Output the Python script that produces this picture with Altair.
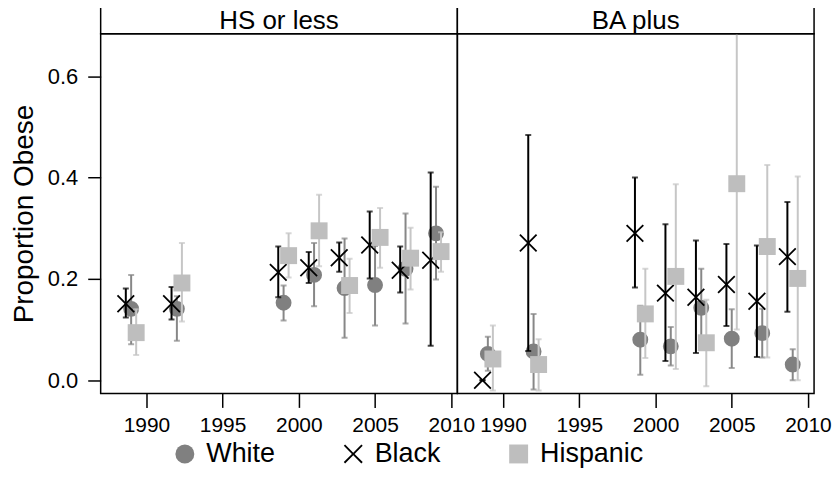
import altair as alt
import pandas as pd

years = [1989, 1992, 1999, 2001, 2003, 2005, 2007, 2009]
panels = ["HS or less", "BA plus"]
groups = ["White", "Black", "Hispanic"]

# HS or less
hs_white_est = [0.141, 0.141, 0.153, 0.208, 0.182, 0.188, 0.220, 0.290]
hs_white_lo = [0.071, 0.078, 0.118, 0.146, 0.084, 0.108, 0.112, 0.199]
hs_white_hi = [0.208, 0.166, 0.187, 0.271, 0.280, 0.265, 0.329, 0.382]
hs_black_est = [0.151, 0.151, 0.213, 0.222, 0.242, 0.267, 0.217, 0.237]
hs_black_lo = [0.124, 0.120, 0.164, 0.192, 0.214, 0.201, 0.173, 0.068]
hs_black_hi = [0.181, 0.184, 0.264, 0.253, 0.272, 0.333, 0.264, 0.410]
hs_hisp_est = [0.094, 0.192, 0.246, 0.295, 0.187, 0.282, 0.241, 0.254]
hs_hisp_lo = [0.050, 0.116, 0.203, 0.225, 0.133, 0.222, 0.179, 0.214]
hs_hisp_hi = [0.140, 0.271, 0.290, 0.366, 0.240, 0.340, 0.301, 0.292]

# BA plus
ba_white_est = [0.052, 0.057, 0.080, 0.067, 0.143, 0.082, 0.093, 0.031]
ba_white_lo = [0.019, -0.018, 0.011, 0.029, 0.068, 0.024, 0.045, 0.000]
ba_white_hi = [0.086, 0.131, 0.147, 0.105, 0.220, 0.140, 0.141, 0.061]
ba_black_est = [0.000, 0.271, 0.290, 0.172, 0.164, 0.189, 0.156, 0.244]
ba_black_lo = [0.000, 0.058, 0.183, 0.038, 0.054, 0.107, 0.046, 0.135]
ba_black_hi = [0.000, 0.484, 0.400, 0.308, 0.276, 0.269, 0.266, 0.352]
ba_hisp_est = [0.042, 0.031, 0.131, 0.205, 0.074, 0.388, 0.264, 0.201]
ba_hisp_lo = [-0.020, -0.020, 0.044, 0.022, -0.012, 0.100, 0.045, 0.000]
ba_hisp_hi = [0.108, 0.081, 0.220, 0.387, 0.159, 0.750, 0.425, 0.402]

series = {
    ("HS or less", "White"): (hs_white_est, hs_white_lo, hs_white_hi),
    ("HS or less", "Black"): (hs_black_est, hs_black_lo, hs_black_hi),
    ("HS or less", "Hispanic"): (hs_hisp_est, hs_hisp_lo, hs_hisp_hi),
    ("BA plus", "White"): (ba_white_est, ba_white_lo, ba_white_hi),
    ("BA plus", "Black"): (ba_black_est, ba_black_lo, ba_black_hi),
    ("BA plus", "Hispanic"): (ba_hisp_est, ba_hisp_lo, ba_hisp_hi),
}

rows = []
for (panel, group), (est, lo, hi) in series.items():
    for yr, e, l, h in zip(years, est, lo, hi):
        rows.append({"panel": panel, "group": group, "year": yr,
                     "est": e, "lo": l, "hi": h})
df = pd.DataFrame(rows)

dodge = {"White": 0.0, "Black": -0.35, "Hispanic": 0.33}
df["xpos"] = df["year"] + df["group"].map(dodge)

X_PATH = ("M-1,-0.86L-0.86,-1L0,-0.14L0.86,-1L1,-0.86L0.14,0L1,0.86L0.86,1"
          "L0,0.14L-0.86,1L-1,0.86L-0.14,0Z")

FONT = "Liberation Sans"
W = 358
H = 361
STRIP_H = 27
XDOM = [1987.0, 2010.4]
YDOM = [-0.026, 0.684]

point_colors = ["#808080", "#000000", "#bebebe"]
bar_colors = {"White": "#878787", "Black": "#000000", "Hispanic": "#c6c6c6"}
point_sizes = {"White": 254, "Black": 324, "Hispanic": 289}
color_scale = alt.Scale(domain=groups, range=point_colors)
shape_scale = alt.Scale(domain=groups, range=["circle", X_PATH, "square"])

legend = alt.Legend(
    title=None, orient="none", legendX=71, legendY=408,
    direction="horizontal", labelFontSize=27, labelFont=FONT,
    labelColor="black", labelOffset=8, columnPadding=64, symbolSize=360,
    symbolStrokeWidth=0, symbolOpacity=1, padding=0,
)

xscale = alt.Scale(domain=XDOM, nice=False, zero=False)
yscale = alt.Scale(domain=YDOM, nice=False, zero=False)
xaxis = alt.Axis(values=[1990, 1995, 2000, 2005, 2010], format="d",
                 title=None, grid=False, domain=False,
                 tickSize=14, tickWidth=1.5, tickColor="black",
                 labelPadding=7, labelFontSize=21, labelFont=FONT,
                 labelColor="black", labelOverlap=False)
yaxis = alt.Axis(values=[0, 0.2, 0.4, 0.6], format=".1f",
                 title="Proportion Obese", titleFontSize=28,
                 titleFont=FONT, titleFontWeight="normal",
                 titleColor="black", titlePadding=9,
                 grid=False, domain=False, tickSize=13, tickWidth=1.5,
                 tickColor="black", labelPadding=10, labelFontSize=22,
                 labelFont=FONT, labelColor="black")

base = alt.Chart()
layers = []
for g in groups:
    bg = base.transform_filter(alt.datum.group == g)
    rule = bg.mark_rule(strokeWidth=2, clip=True, color=bar_colors[g]).encode(
        x=alt.X("xpos:Q", scale=xscale, axis=xaxis),
        y=alt.Y("lo:Q", scale=yscale, axis=yaxis),
        y2="hi:Q",
    )
    cap_lo = bg.mark_tick(orient="horizontal", size=6, thickness=2,
                          clip=True, color=bar_colors[g]).encode(
        x="xpos:Q", y="lo:Q")
    cap_hi = bg.mark_tick(orient="horizontal", size=6, thickness=2,
                          clip=True, color=bar_colors[g]).encode(
        x="xpos:Q", y="hi:Q")
    pts = bg.mark_point(filled=True, opacity=1, strokeWidth=0,
                        size=point_sizes[g]).encode(
        x="xpos:Q",
        y="est:Q",
        color=alt.Color("group:N", scale=color_scale, legend=legend),
        shape=alt.Shape("group:N", scale=shape_scale, legend=legend),
    )
    layers += [rule, cap_lo, cap_hi, pts]

strip_base = base.transform_aggregate(n="count()", groupby=["panel"])
strip_box = strip_base.mark_rect(fill="white", stroke="black",
                                 strokeWidth=1.5).encode(
    x=alt.value(0), x2=alt.value(W),
    y=alt.value(-STRIP_H), y2=alt.value(0))
strip_text = strip_base.mark_text(fontSize=26, font=FONT, color="black",
                                  baseline="middle", dy=1).encode(
    text="panel:N", x=alt.value(W / 2), y=alt.value(-STRIP_H / 2))
layers += [strip_box, strip_text]

chart = alt.layer(*layers, data=df).properties(width=W, height=H).facet(
    column=alt.Column("panel:N", sort=panels,
                      header=alt.Header(title=None, labels=False,
                                        labelPadding=0, titlePadding=0)),
    spacing=0, bounds="flush",
).configure_view(
    stroke="black", strokeWidth=1.5
).properties(padding={"left": 2, "top": -4, "right": 0, "bottom": 0})

chart.save("out.html", embed_options={"renderer": "svg", "actions": False})
